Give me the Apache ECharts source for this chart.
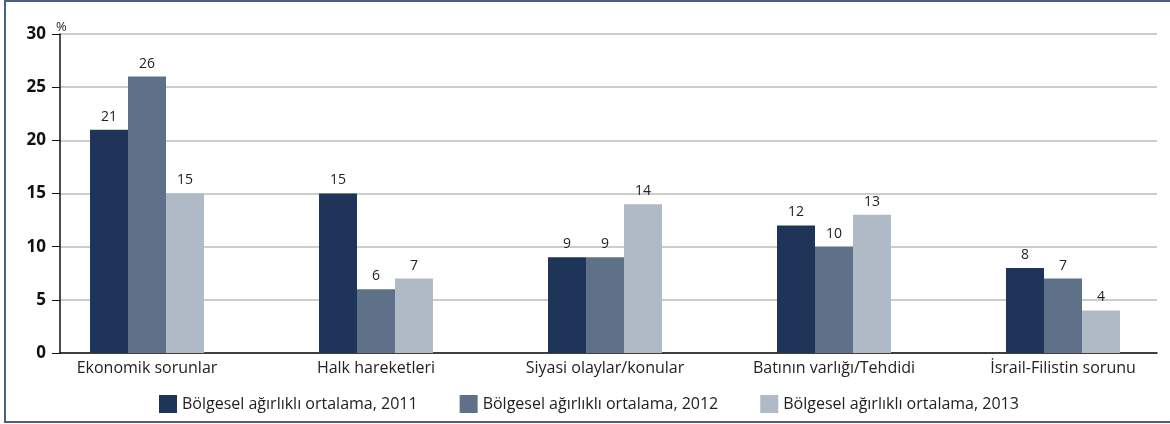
<!DOCTYPE html>
<html>
<head>
<meta charset="utf-8">
<script src="https://cdn.jsdelivr.net/npm/echarts@6/dist/echarts.min.js"></script>
<style>
    html, body { margin: 0; padding: 0; background: #fff; overflow: hidden; width: 1170px; height: 424px; }
    #frame {
        position: absolute; left: 4px; top: 0; width: 1170px; height: 423px;
        border-left: 2px solid #4a5f82; border-top: 2px solid #4a5f82; border-bottom: 2px solid #4a5f82;
        box-sizing: border-box;
    }
    /* a little wider than the window so the last category band fits */
    #chart { position: absolute; left: 0; top: 0; width: 1185px; height: 424px; }
</style>
</head>
<body>
<div id="frame"></div>
<div id="chart"></div>
<script>
const categories = ['Ekonomik sorunlar', 'Halk hareketleri', 'Siyasi olaylar/konular', 'Batının varlığı/Tehdidi', 'İsrail-Filistin sorunu'];
const seriesNames = ['Bölgesel ağırlıklı ortalama, 2011', 'Bölgesel ağırlıklı ortalama, 2012', 'Bölgesel ağırlıklı ortalama, 2013'];
const values2011 = [21, 15, 9, 12, 8];
const values2012 = [26, 6, 9, 10, 7];
const values2013 = [15, 7, 14, 13, 4];
const yTicks = { min: 0, max: 30, interval: 5 };

const colors = ['#1f3459', '#5f7089', '#b0b9c6'];
const font = '"Open Sans", "Noto Sans", sans-serif';

let chart = echarts.init(document.getElementById('chart'));

function barSeries(name, data, color) {
    return {
        name: name,
        type: 'bar',
        xAxisIndex: 1,
        yAxisIndex: 1,
        barWidth: 38,
        barGap: '0%',
        itemStyle: { color: color },
        label: {
            show: true,
            position: 'top',
            distance: 6,
            color: '#222',
            fontSize: 14,
            fontFamily: font
        },
        data: data
    };
}

chart.setOption({
    animation: false,
    textStyle: { fontFamily: font },
    legend: {
        bottom: 6,
        left: 154,
        itemWidth: 18,
        itemHeight: 18,
        itemGap: 42,
        icon: 'rect',
        textStyle: { fontSize: 16, color: '#222', fontFamily: font },
        data: seriesNames
    },
    grid: [
        // frame grid: y axis, gridlines, baseline
        { left: 60, right: 28, top: 34, bottom: 71 },
        // bar grid: category bands placed so bars sit under their labels
        { left: 32.5, width: 1145, top: 34, bottom: 71 }
    ],
    xAxis: [{
        gridIndex: 0,
        type: 'value',
        min: 0,
        max: 1,
        axisLine: { show: true, onZero: false, lineStyle: { color: '#111', width: 1.5 } },
        axisTick: { show: false },
        axisLabel: { show: false },
        splitLine: { show: false }
    }, {
        gridIndex: 1,
        type: 'category',
        data: categories,
        axisLine: { show: false },
        axisTick: { show: false },
        axisLabel: { color: '#222', fontSize: 16, margin: 7, fontFamily: font }
    }],
    yAxis: [{
        gridIndex: 0,
        type: 'value',
        min: yTicks.min,
        max: yTicks.max,
        interval: yTicks.interval,
        name: '%',
        nameGap: 0,
        nameTextStyle: { color: '#222', fontSize: 13, align: 'left', padding: [0, 0, 0, -4] },
        axisLine: { show: true, lineStyle: { color: '#111', width: 1.5 } },
        axisTick: { show: true, length: 8, lineStyle: { color: '#111' } },
        axisLabel: { color: '#111', fontSize: 17, fontWeight: 'bold', margin: 14 },
        splitLine: { lineStyle: { color: '#bdbdbd', width: 1.5 } }
    }, {
        gridIndex: 1,
        type: 'value',
        min: yTicks.min,
        max: yTicks.max,
        interval: yTicks.interval,
        show: false,
        splitLine: { show: false }
    }],
    series: [
        barSeries(seriesNames[0], values2011, colors[0]),
        barSeries(seriesNames[1], values2012, colors[1]),
        barSeries(seriesNames[2], values2013, colors[2])
    ]
});
</script>
</body>
</html>
